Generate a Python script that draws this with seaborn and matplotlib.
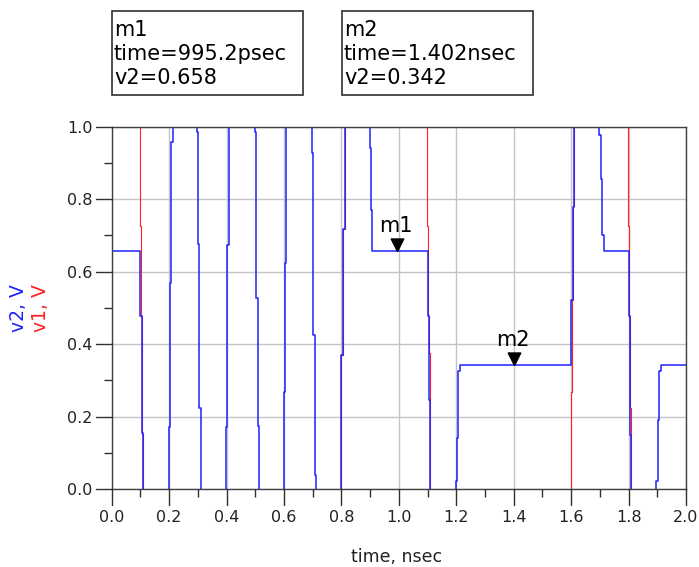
import matplotlib

matplotlib.use("Agg")

import matplotlib.pyplot as plt
import numpy as np
import pandas as pd
import seaborn as sns
from matplotlib.lines import Line2D
from matplotlib.patches import Rectangle


# v2 trace (blue), time in nsec, values above 1.0 / below 0.0 are clipped by the axes
v2_time = [
    0.0, 0.100, 0.100, 0.104, 0.104, 0.108, 0.108,
    0.199, 0.199, 0.203, 0.203, 0.207, 0.207, 0.212, 0.212,
    0.296, 0.296, 0.299, 0.299, 0.304, 0.304, 0.310, 0.310,
    0.399, 0.399, 0.403, 0.403, 0.410, 0.410,
    0.498, 0.498, 0.503, 0.503, 0.508, 0.508, 0.513, 0.513,
    0.600, 0.600, 0.603, 0.603, 0.608, 0.608,
    0.698, 0.698, 0.702, 0.702, 0.707, 0.707, 0.713, 0.713,
    0.800, 0.800, 0.806, 0.806, 0.812, 0.812,
    0.898, 0.898, 0.903, 0.903, 0.907, 0.907,
    1.102, 1.102, 1.106, 1.106, 1.110, 1.110,
    1.199, 1.199, 1.202, 1.202, 1.207, 1.207, 1.213, 1.213,
    1.600, 1.600, 1.6055, 1.6055, 1.610, 1.610,
    1.698, 1.698, 1.703, 1.703, 1.708, 1.708, 1.713, 1.713,
    1.801, 1.801, 1.8055, 1.8055, 1.810, 1.810,
    1.897, 1.897, 1.901, 1.901, 1.907, 1.907, 1.913, 1.913,
    2.0,
]
v2_value = [
    0.658, 0.658, 0.478, 0.478, 0.155, 0.155, -0.1,
    -0.1, 0.172, 0.172, 0.569, 0.569, 0.959, 0.959, 1.1,
    1.1, 0.986, 0.986, 0.676, 0.676, 0.223, 0.223, -0.1,
    -0.1, 0.172, 0.172, 0.673, 0.673, 1.1,
    1.1, 0.986, 0.986, 0.526, 0.526, 0.174, 0.174, -0.1,
    -0.1, 0.269, 0.269, 0.623, 0.623, 1.1,
    1.1, 0.928, 0.928, 0.425, 0.425, 0.039, 0.039, -0.1,
    -0.1, 0.370, 0.370, 0.719, 0.719, 1.1,
    1.1, 0.940, 0.940, 0.770, 0.770, 0.658,
    0.658, 0.477, 0.477, 0.247, 0.247, -0.1,
    -0.1, 0.022, 0.022, 0.142, 0.142, 0.327, 0.327, 0.342,
    0.342, 0.521, 0.521, 0.779, 0.779, 1.1,
    1.1, 0.977, 0.977, 0.855, 0.855, 0.701, 0.701, 0.658,
    0.658, 0.477, 0.477, 0.149, 0.149, -0.1,
    -0.1, 0.022, 0.022, 0.190, 0.190, 0.327, 0.327, 0.342,
    0.342,
]

# v1 trace (red)
v1_time = [
    0.0, 0.0995, 0.0995, 0.1025, 0.1025, 0.104, 0.104, 0.107, 0.107, 0.108, 0.108,
    0.800, 0.800, 0.806, 0.806, 0.812, 0.812,
    1.0995, 1.0995, 1.103, 1.103, 1.106, 1.106, 1.108, 1.108, 1.110, 1.110,
    1.599, 1.599, 1.6025, 1.6025, 1.607, 1.607, 1.610, 1.610,
    1.7995, 1.7995, 1.803, 1.803, 1.805, 1.805, 1.8085, 1.8085, 1.810, 1.810,
    2.0,
]
v1_value = [
    1.2, 1.2, 0.726, 0.726, 0.478, 0.478, 0.223, 0.223, 0.151, 0.151, -0.2,
    -0.2, 0.370, 0.370, 0.719, 0.719, 1.2,
    1.2, 0.726, 0.726, 0.478, 0.478, 0.374, 0.374, 0.247, 0.247, -0.2,
    -0.2, 0.269, 0.269, 0.521, 0.521, 0.781, 0.781, 1.2,
    1.2, 0.726, 0.726, 0.478, 0.478, 0.223, 0.223, 0.151, 0.151, -0.2,
    -0.2,
]

marker_names = ["m1", "m2"]
marker_time = [0.9952, 1.402]
marker_v2 = [0.658, 0.342]

x_ticks = [0.0, 0.2, 0.4, 0.6, 0.8, 1.0, 1.2, 1.4, 1.6, 1.8, 2.0]
y_ticks = [0.0, 0.2, 0.4, 0.6, 0.8, 1.0]

BLUE = "#2020ff"
RED = "#ff2020"
TICK = "#303030"
W, H = 699, 567
AX_LEFT, AX_BOTTOM = 111.7, 489
AX_W, AX_H = 574.3, 362.3


def fig_xy(px, py):
    # pixel position (top-left origin) -> figure fraction
    return px / W, 1 - py / H


sns.set_style("ticks")
plt.rcParams["font.family"] = ["DejaVu Sans"]
plt.rcParams.update(
    {
        "xtick.bottom": True,
        "ytick.left": True,
        "xtick.top": False,
        "ytick.right": False,
        "xtick.direction": "out",
        "ytick.direction": "out",
        "xtick.major.size": 0,
        "ytick.major.size": 0,
        "xtick.minor.size": 5.5,
        "ytick.minor.size": 5.5,
        "xtick.minor.width": 1.0,
        "ytick.minor.width": 1.0,
        "xtick.color": TICK,
        "ytick.color": TICK,
        "xtick.labelcolor": "#222222",
        "ytick.labelcolor": "#222222",
        "xtick.labelsize": 11.5,
        "ytick.labelsize": 11.5,
        "xtick.major.pad": 15.0,
        "ytick.major.pad": 13.7,
    }
)

figure = plt.figure(figsize=(W / 100, H / 100), dpi=100)

axis = figure.add_axes([AX_LEFT / W, 1 - AX_BOTTOM / H, AX_W / W, AX_H / H])

v1_frame = pd.DataFrame({"time": v1_time, "v1": v1_value})
v2_frame = pd.DataFrame({"time": v2_time, "v2": v2_value})

sns.lineplot(
    data=v1_frame,
    x="time",
    y="v1",
    sort=False,
    estimator=None,
    color=RED,
    linewidth=0.8,
    ax=axis,
)

sns.lineplot(
    data=v2_frame,
    x="time",
    y="v2",
    sort=False,
    estimator=None,
    color=BLUE,
    linewidth=1.1,
    ax=axis,
)

axis.set_xlim(0, 2.0)
axis.set_ylim(0, 1.0)

axis.set_xticks(x_ticks)
axis.set_xticks(np.arange(0.1, 2.0, 0.2), minor=True)
axis.set_yticks(y_ticks)
axis.set_yticks(np.arange(0.1, 1.0, 0.2), minor=True)
axis.set_xticklabels([f"{v:.1f}" for v in x_ticks])
axis.set_yticklabels([f"{v:.1f}" for v in y_ticks])

# long major tick marks, 16 px outside the frame, drawn on the figure
for t in x_ticks:
    px = AX_LEFT + t / 2.0 * AX_W
    x0, y0 = fig_xy(px, AX_BOTTOM)
    x1, y1 = fig_xy(px, AX_BOTTOM + 16)
    figure.add_artist(
        Line2D([x0, x1], [y0, y1], transform=figure.transFigure, color=TICK, linewidth=1.0)
    )

for v in y_ticks:
    py = AX_BOTTOM - v * AX_H
    x0, y0 = fig_xy(AX_LEFT, py)
    x1, y1 = fig_xy(AX_LEFT - 16, py)
    figure.add_artist(
        Line2D([x0, x1], [y0, y1], transform=figure.transFigure, color=TICK, linewidth=1.0)
    )

axis.grid(True, which="major", color="#c4c4c4", linewidth=1.0)
axis.set_axisbelow(True)

for spine in axis.spines.values():
    spine.set_visible(True)
    spine.set_edgecolor("#404040")
    spine.set_linewidth(1.0)

axis.set_xlabel("")
axis.set_ylabel("")

# marker triangles with the tip on the data point
tip_down = [(0, 0), (-0.5, 1), (0.5, 1), (0, 0)]

for name, t, v in zip(marker_names, marker_time, marker_v2):
    axis.plot(
        t,
        v,
        marker=tip_down,
        markersize=18,
        color="black",
        linestyle="none",
        clip_on=False,
        zorder=5,
    )
    axis.annotate(
        name,
        xy=(t, v),
        xytext=(-1, 13.5),
        textcoords="offset points",
        ha="center",
        va="baseline",
        fontsize=15,
        color="black",
        zorder=6,
    )

# readout boxes above the plot
box_left = [112, 342]
box_right = [303, 533]

for name, t, v, left, right in zip(
    marker_names, marker_time, marker_v2, box_left, box_right
):
    x0, y0 = fig_xy(left, 95)
    x1, y1 = fig_xy(right, 11)
    figure.add_artist(
        Rectangle(
            (x0, y0),
            x1 - x0,
            y1 - y0,
            transform=figure.transFigure,
            facecolor="white",
            edgecolor="#303030",
            linewidth=1.2,
        )
    )

    time_text = f"{t * 1000:.1f}psec" if t < 1 else f"{t:.3f}nsec"
    lines = [name, f"time={time_text}", f"v2={v:.3f}"]

    for line, baseline in zip(lines, [36.5, 60, 84]):
        tx, ty = fig_xy(left + 2, baseline)
        figure.text(
            tx,
            ty,
            line,
            fontsize=15,
            ha="left",
            va="baseline",
            color="black",
        )

# axis labels
lx, ly = fig_xy(397, 561.5)
figure.text(lx, ly, "time, nsec", fontsize=12.5, ha="center", va="baseline", color="#222222")

bx, by = fig_xy(19, 308)
figure.text(bx, by, "v2, V", fontsize=13.5, rotation=90, ha="center", va="center", color=BLUE)
rx, ry = fig_xy(41, 308)
figure.text(rx, ry, "v1, V", fontsize=13.5, rotation=90, ha="center", va="center", color=RED)

plt.savefig("out.png", dpi=100)
plt.close()
